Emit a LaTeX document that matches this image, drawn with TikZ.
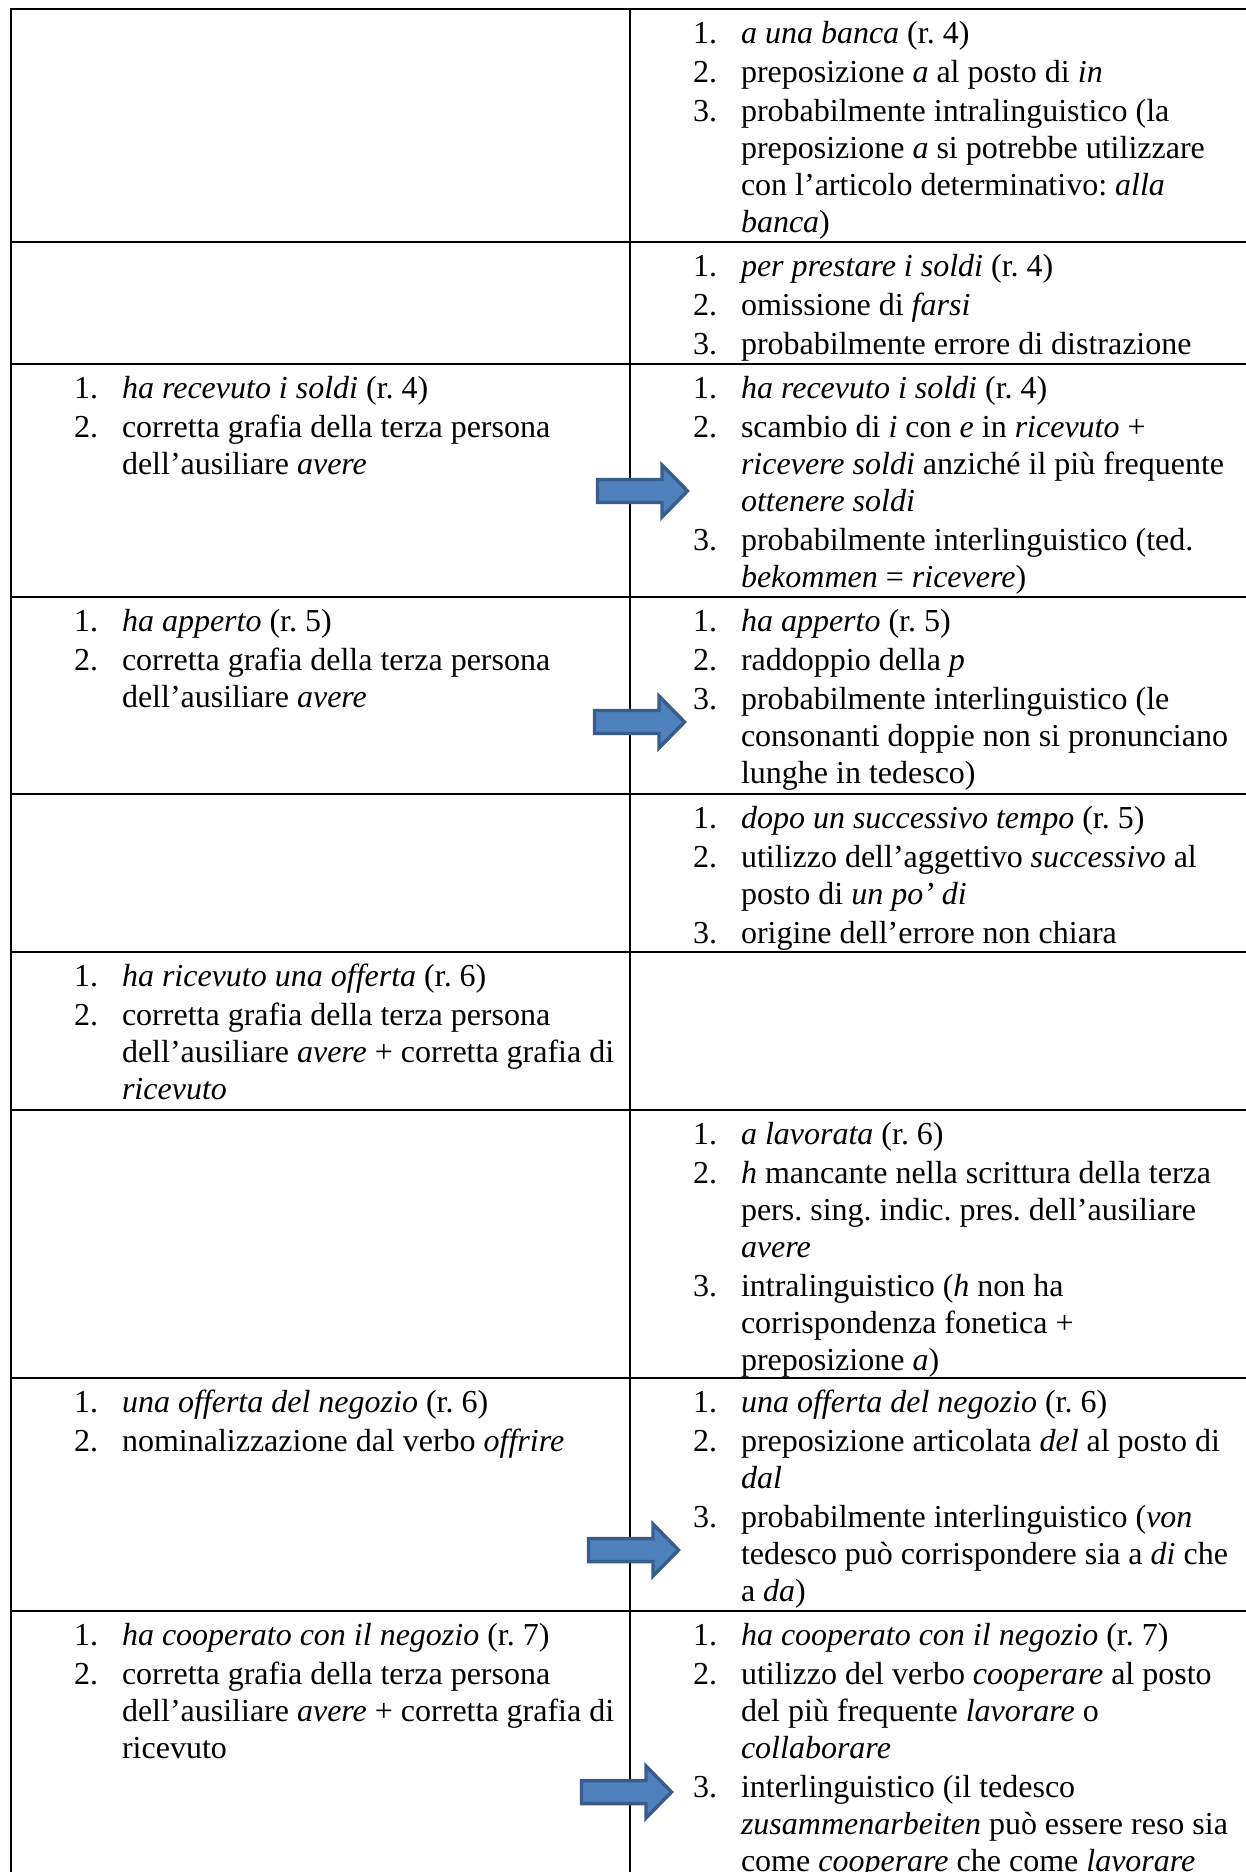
\documentclass[tikz,border=0pt]{standalone}
\usepackage{fontspec}
\setmainfont{Liberation Serif}

\definecolor{arrowfill}{RGB}{79,129,189}
\definecolor{arrowline}{RGB}{56,93,138}

\setlength{\parindent}{0pt}
\newcommand{\itm}[2]{\spaceskip=0pt\xspaceskip=0pt\hangindent=18pt\hangafter=1\noindent\hbox to 18pt{\strut#1.\hfil}#2\par}

\tikzset{
    grid/.style={line width=0.75pt},
    cell/.style={anchor=north west, inner sep=0pt, text width=240pt, align=left,
        font=\fontsize{12pt}{13.875pt}\selectfont\frenchspacing,
        execute at begin node={\setlength{\parskip}{0.75pt}}},
    bluearrow/.style={fill=arrowfill, draw=arrowline, line width=1.3pt, line join=miter}
}

\begin{document}
\begin{tikzpicture}[x=0.375pt, y=-0.375pt]
    \fill[white] (0,0) rectangle (1246,1872);
    \useasboundingbox (0,0) rectangle (1246,1872);

    \draw[grid] (1246,9) -- (11,9) -- (11,1872);
    \draw[grid] (629.5,9) -- (629.5,1872);
    \foreach \y in {242,364,597,794,952,1110,1378,1611}
        \draw[grid] (11,\y) -- (1246,\y);

    \node[cell] (r1b) at (692.5,17.4) {\itm{1}{\emph{a una banca} (r. 4)}
        \itm{2}{preposizione \emph{a} al posto di \emph{in}}
        \itm{3}{probabilmente intralinguistico (la\newline preposizione \emph{a} si potrebbe utilizzare\newline con l’articolo determinativo: \emph{alla}\newline \emph{banca})}};

    \node[cell] (r2b) at (692.5,250.4) {\itm{1}{\emph{per prestare i soldi} (r. 4)}
        \itm{2}{omissione di \emph{farsi}}
        \itm{3}{probabilmente errore di distrazione}};

    \node[cell] (r3a) at (73.5,372.4) {\itm{1}{\emph{ha recevuto i soldi} (r. 4)}
        \itm{2}{corretta grafia della terza persona\newline dell’ausiliare \emph{avere}}};
    \node[cell] (r3b) at (692.5,372.4) {\itm{1}{\emph{ha recevuto i soldi} (r. 4)}
        \itm{2}{scambio di \emph{i} con \emph{e} in \emph{ricevuto} +\newline \emph{ricevere soldi} anziché il più frequente\newline \emph{ottenere soldi}}
        \itm{3}{probabilmente interlinguistico (ted.\newline \emph{bekommen} = \emph{ricevere})}};

    \node[cell] (r4a) at (73.5,605.4) {\itm{1}{\emph{ha apperto} (r. 5)}
        \itm{2}{corretta grafia della terza persona\newline dell’ausiliare \emph{avere}}};
    \node[cell] (r4b) at (692.5,605.4) {\itm{1}{\emph{ha apperto} (r. 5)}
        \itm{2}{raddoppio della \emph{p}}
        \itm{3}{probabilmente interlinguistico (le\newline consonanti doppie non si pronunciano\newline lunghe in tedesco)}};

    \node[cell] (r5b) at (692.5,802.4) {\itm{1}{\emph{dopo un successivo tempo} (r. 5)}
        \itm{2}{utilizzo dell’aggettivo \emph{successivo} al\newline posto di \emph{un po’ di}}
        \itm{3}{origine dell’errore non chiara}};

    \node[cell] (r6a) at (73.5,960.4) {\itm{1}{\emph{ha ricevuto una offerta} (r. 6)}
        \itm{2}{corretta grafia della terza persona\newline dell’ausiliare \emph{avere} + corretta grafia di\newline \emph{ricevuto}}};

    \node[cell] (r7b) at (692.5,1118.4) {\itm{1}{\emph{a lavorata} (r. 6)}
        \itm{2}{\emph{h} mancante nella scrittura della terza\newline pers. sing. indic. pres. dell’ausiliare\newline \emph{avere}}
        \itm{3}{intralinguistico (\emph{h} non ha\newline corrispondenza fonetica +\newline preposizione \emph{a})}};

    \node[cell] (r8a) at (73.5,1386.4) {\itm{1}{\emph{una offerta del negozio} (r. 6)}
        \itm{2}{nominalizzazione dal verbo \emph{offrire}}};
    \node[cell] (r8b) at (692.5,1386.4) {\itm{1}{\emph{una offerta del negozio} (r. 6)}
        \itm{2}{preposizione articolata \emph{del} al posto di\newline \emph{dal}}
        \itm{3}{probabilmente interlinguistico (\emph{von}\newline tedesco può corrispondere sia a \emph{di} che\newline a \emph{da})}};

    \node[cell] (r9a) at (73.5,1619.4) {\itm{1}{\emph{ha cooperato con il negozio} (r. 7)}
        \itm{2}{corretta grafia della terza persona\newline dell’ausiliare \emph{avere} + corretta grafia di\newline ricevuto}};
    \node[cell] (r9b) at (692.5,1619.4) {\itm{1}{\emph{ha cooperato con il negozio} (r. 7)}
        \itm{2}{utilizzo del verbo \emph{cooperare} al posto\newline del più frequente \emph{lavorare} o\newline \emph{collaborare}}
        \itm{3}{interlinguistico (il tedesco\newline \emph{zusammenarbeiten} può essere reso sia\newline come \emph{cooperare} che come \emph{lavorare}}};

    % block arrows over the column line
    \foreach \ax/\ay in {596/491, 593/722, 587/1550, 580/1792}
        \draw[bluearrow] (\ax+1.5,\ay-11.5) -- ++(64.5,0) -- ++(0,-14.5)
            -- ++(25.5,26) -- ++(-25.5,26) -- ++(0,-14.5) -- ++(-64.5,0) -- cycle;
\end{tikzpicture}
\end{document}
